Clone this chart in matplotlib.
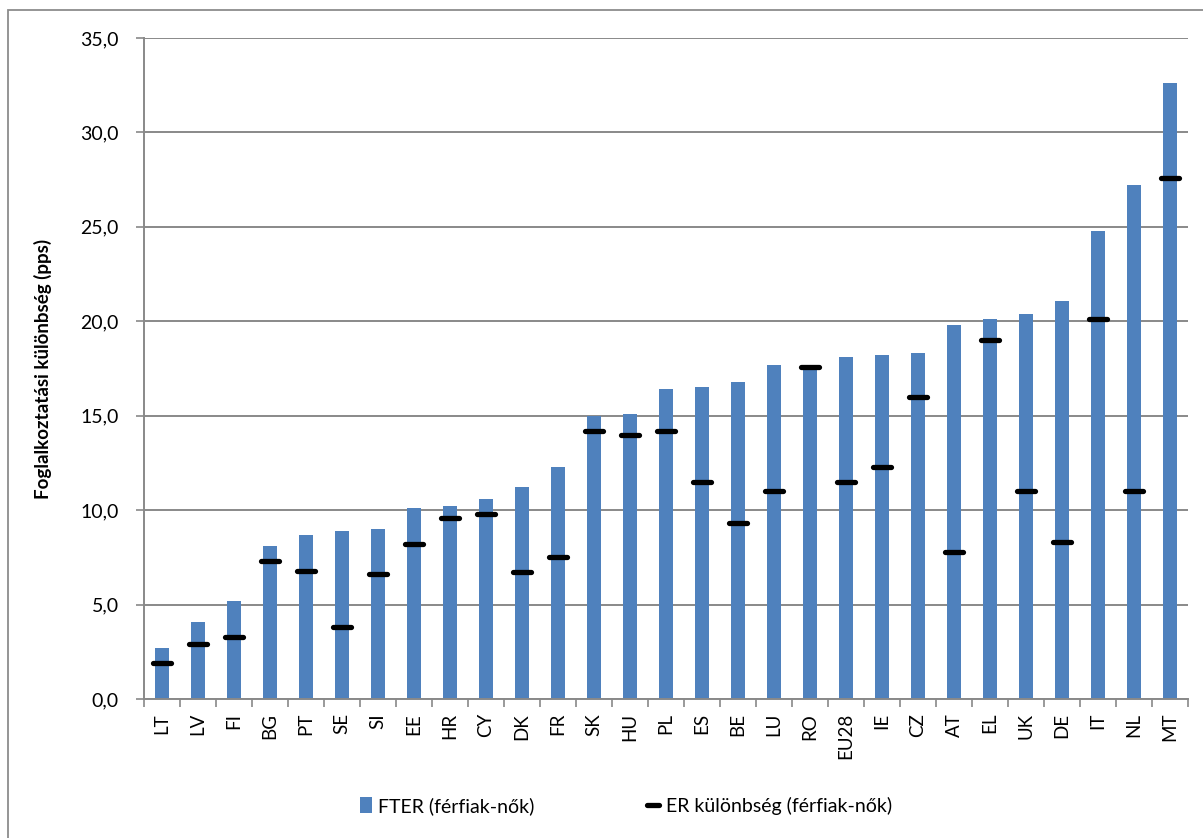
import matplotlib
matplotlib.use("Agg")
import matplotlib.pyplot as plt
from matplotlib.markers import MarkerStyle
from matplotlib.patches import Rectangle
import numpy as np

countries = ["LT", "LV", "FI", "BG", "PT", "SE", "SI", "EE", "HR", "CY", "DK", "FR",
             "SK", "HU", "PL", "ES", "BE", "LU", "RO", "EU28", "IE", "CZ", "AT", "EL",
             "UK", "DE", "IT", "NL", "MT"]
fter_gap = [2.7, 4.1, 5.2, 8.1, 8.7, 8.9, 9.0, 10.1, 10.2, 10.6, 11.2, 12.3,
            15.0, 15.1, 16.4, 16.5, 16.8, 17.7, 17.5, 18.1, 18.2, 18.3, 19.8, 20.1,
            20.4, 21.1, 24.8, 27.2, 32.6]
er_gap = [1.9, 2.9, 3.3, 7.3, 6.8, 3.8, 6.6, 8.2, 9.6, 9.8, 6.7, 7.5,
          14.2, 14.0, 14.2, 11.5, 9.3, 11.0, 17.6, 11.5, 12.3, 16.0, 7.8, 19.0,
          11.0, 8.3, 20.1, 11.0, 27.6]
yticks = [0, 5, 10, 15, 20, 25, 30, 35]

FONT = ["Lato", "DejaVu Sans"]
plt.rcParams["font.family"] = FONT
BAR_BLUE = "#4F81BD"
GRID_GREY = "#898989"

fig = plt.figure(figsize=(12.03, 8.38), dpi=100)
ax = fig.add_axes([144 / 1203, 1 - 699 / 838, (1188 - 144) / 1203, (699 - 38) / 838])

x = np.arange(len(countries))
bars = ax.bar(x, fter_gap, width=0.39, color=BAR_BLUE, zorder=2,
              label="FTER (férfiak-nők)")
dash = MarkerStyle("_", capstyle="round")
line, = ax.plot(x, er_gap, linestyle="none", marker=dash, markersize=13.5,
                markeredgewidth=3.8, color="black", zorder=3,
                label="ER különbség (férfiak-nők)")

ax.set_xlim(-0.5, len(countries) - 0.5)
ax.set_ylim(0, 35)
ax.set_yticks(yticks)
ax.set_yticklabels([f"{v:.1f}".replace(".", ",") for v in yticks], fontsize=14)
ax.yaxis.grid(True, color=GRID_GREY, linewidth=1.4, zorder=0)
ax.set_axisbelow(True)

ax.set_xticks(x)
ax.set_xticklabels(countries, rotation=90, fontsize=13.5)
ax.set_xticks(np.arange(-0.5, len(countries)), minor=True)
ax.tick_params(axis="x", which="major", length=0, pad=10)
ax.tick_params(axis="x", which="minor", length=6, color=GRID_GREY, width=1.2)
ax.tick_params(axis="y", length=6, color=GRID_GREY, width=1.2, pad=12)

for side in ("top", "right"):
    ax.spines[side].set_visible(False)
for side in ("left", "bottom"):
    ax.spines[side].set_color(GRID_GREY)
    ax.spines[side].set_linewidth(1.4)

ax.set_ylabel("Foglalkoztatási különbség (pps)", fontsize=13.5, fontweight="bold")
ax.yaxis.set_label_coords(-92 / 1044, 0.5)

# Legend: small square for the bars, short dash for the markers
leg_dash = plt.Line2D([], [], linestyle="none", marker=dash, markersize=8,
                      markeredgewidth=3.8, color="black")
fig.legend([bars, leg_dash], ["FTER (férfiak-nők)", "ER különbség (férfiak-nők)"],
           loc="center", bbox_to_anchor=(626 / 1203, 1 - 806 / 838),
           ncol=2, frameon=False, fontsize=14, handlelength=0.6,
           handleheight=0.9, handletextpad=0.35, columnspacing=5.8)

# Chart area border
fig.patches.append(Rectangle((8 / 1203, -0.01), 1.02, 1 - 10 / 838 + 0.01,
                             transform=fig.transFigure, fill=False,
                             edgecolor="#8C8C8C", linewidth=1.3))

fig.savefig("out.png", dpi=100)
